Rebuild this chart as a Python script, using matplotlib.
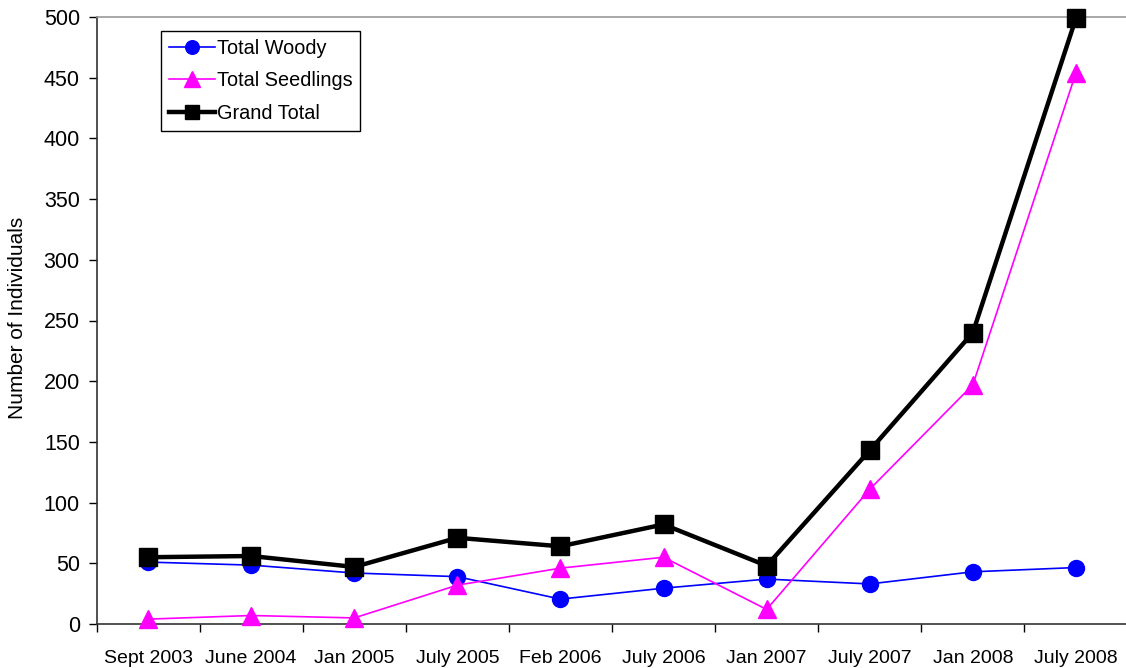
import matplotlib
matplotlib.use("Agg")
import matplotlib.pyplot as plt
import numpy as np

categories = ["Sept 2003", "June 2004", "Jan 2005", "July 2005", "Feb 2006",
              "July 2006", "Jan 2007", "July 2007", "Jan 2008", "July 2008"]
total_woody = [51, 48.5, 42, 39, 20.5, 29.5, 37, 33, 43, 46.5]
total_seedlings = [4, 7, 5, 32, 46, 55, 12, 111, 197, 454]
grand_total = [55, 56, 47, 71, 64, 82, 48, 143, 240, 499]
yticks = [0, 50, 100, 150, 200, 250, 300, 350, 400, 450, 500]

plt.rcParams['font.family'] = ['Liberation Sans', 'DejaVu Sans']

fig = plt.figure(figsize=(11.26, 6.68), dpi=100)
ax = fig.add_axes([96.5/1126, 44/668, 1031/1126, 607/668])

x = np.arange(len(categories))
ax.plot(x, total_woody, color='#0000FF', lw=1.2, marker='o', ms=11.5,
        label='Total Woody', clip_on=False, zorder=3)
ax.plot(x, total_seedlings, color='#FF00FF', lw=1.2, marker='^', ms=13,
        label='Total Seedlings', clip_on=False, zorder=4)
ax.plot(x, grand_total, color='black', lw=3.2, marker='s', ms=12.5,
        label='Grand Total', clip_on=False, zorder=5)

ax.set_xlim(-0.5, len(categories) - 0.5)
ax.set_ylim(0, 500)
ax.set_yticks(yticks)
ax.tick_params(axis='y', direction='out', length=6, width=1, labelsize=15.5, pad=6)

ax.set_xticks(np.arange(-0.5, len(categories), 1.0))
ax.set_xticklabels([])
ax.tick_params(axis='x', which='major', direction='out', length=6, width=1)
ax.set_xticks(x, minor=True)
ax.set_xticklabels(categories, minor=True)
ax.tick_params(axis='x', which='minor', length=0, labelsize=14, pad=19)

ax.spines['right'].set_visible(False)
ax.spines['top'].set_color('#999999')
ax.spines['top'].set_linewidth(1.2)
for s in ['left', 'bottom']:
    ax.spines[s].set_color('#333333')
    ax.spines[s].set_linewidth(1.2)

fig.text(18/1126, 1 - 318/668, "Number of Individuals", rotation=90,
         ha='center', va='center', fontsize=15)

leg = ax.legend(loc='upper left', bbox_to_anchor=((161-96.5)/1031, (624-31)/607),
                borderaxespad=0, fontsize=14.3, numpoints=1, handlelength=2.3,
                handletextpad=0.1, labelspacing=0.68, borderpad=0.4,
                fancybox=False, framealpha=1, edgecolor='black')
leg.get_frame().set_linewidth(1)
for h in leg.legend_handles:
    h.set_markersize(h.get_markersize() * 0.85)

fig.savefig("out.png", dpi=100)
